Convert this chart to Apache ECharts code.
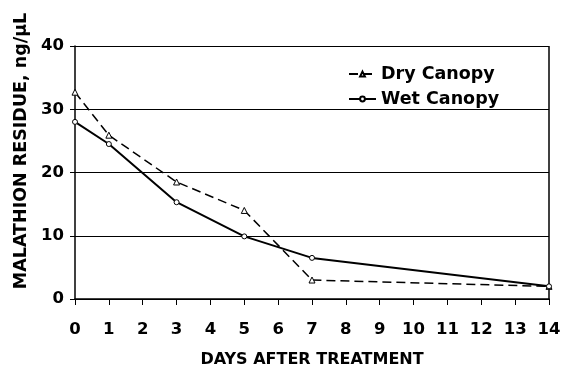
<!DOCTYPE html>
<html><head><meta charset="utf-8">
<script src="https://cdn.jsdelivr.net/npm/echarts@6/dist/echarts.min.js"></script>
<style>html,body{margin:0;padding:0;background:#fff}#c{width:564px;height:366px}</style>
</head><body><div id="c"></div>
<script>
const days = [0, 1, 3, 5, 7, 14];
const dryCanopy = [32.7, 25.9, 18.5, 14.0, 3.0, 2.0];
const wetCanopy = [28.0, 24.5, 15.3, 9.9, 6.5, 2.0];
const xTicks = [0,1,2,3,4,5,6,7,8,9,10,11,12,13,14];
const yTicks = [0,10,20,30,40];
const seriesNames = ['Dry Canopy', 'Wet Canopy'];
const xTitle = 'DAYS AFTER TREATMENT';
const yTitle = 'MALATHION RESIDUE, ng/\u03bcL';

const font = '"DejaVu Sans", sans-serif';
const chart = echarts.init(document.getElementById('c'));
chart.setOption({
  animation: false,
  backgroundColor: '#fff',
  grid: { left: 75, right: 15, top: 46, bottom: 67, show: false, containLabel: false, outerBoundsMode: 'none' },
  legend: {
    orient: 'vertical', left: 343, top: 60, itemGap: 7,
    itemWidth: 27, itemHeight: 6,
    textStyle: { fontFamily: font, fontWeight: 'bold', fontSize: 17.5, color: '#000' },
    data: seriesNames
  },
  xAxis: {
    type: 'value', min: xTicks[0], max: xTicks[xTicks.length-1], interval: 1,
    name: xTitle, nameLocation: 'middle', nameGap: 53,
    nameTextStyle: { fontFamily: font, fontWeight: 'bold', fontSize: 16, color: '#000' },
    axisLine: { lineStyle: { color: '#000', width: 1.5 } },
    axisTick: { show: true, inside: false, length: 6, lineStyle: { color: '#000', width: 1 } },
    axisLabel: { fontFamily: font, fontWeight: 'bold', fontSize: 16.5, color: '#000', margin: 22 },
    splitLine: { show: false }
  },
  yAxis: {
    type: 'value', min: yTicks[0], max: yTicks[yTicks.length-1], interval: 10,
    axisLine: { show: true, lineStyle: { color: '#000', width: 1.5 } },
    axisTick: { show: true, inside: false, length: 5, lineStyle: { color: '#000', width: 1 } },
    axisLabel: { fontFamily: font, fontWeight: 'bold', fontSize: 16.5, color: '#000', margin: 11 },
    splitLine: { show: true, lineStyle: { color: '#000', width: 1 } }
  },
  graphic: [
    { type: 'line', shape: { x1: 549, y1: 46, x2: 549, y2: 299 }, style: { stroke: '#000', lineWidth: 1.5 } },
    { type: 'text', x: 21, y: 151, rotation: Math.PI/2,
      style: { text: yTitle, fontFamily: font, fontWeight: 'bold', fontSize: 17.5, fill: '#000',
               align: 'center', verticalAlign: 'middle' } }
  ],
  series: [
    { name: seriesNames[0], type: 'line', data: days.map((d,i)=>[d, dryCanopy[i]]),
      symbol: 'triangle', symbolSize: 6,
      lineStyle: { color: '#000', width: 1.5, type: [9,5] },
      itemStyle: { color: '#fff', borderColor: '#000', borderWidth: 1 } },
    { name: seriesNames[1], type: 'line', data: days.map((d,i)=>[d, wetCanopy[i]]),
      symbol: 'circle', symbolSize: 5,
      lineStyle: { color: '#000', width: 2 },
      itemStyle: { color: '#fff', borderColor: '#000', borderWidth: 1 } }
  ]
});
</script></body></html>
